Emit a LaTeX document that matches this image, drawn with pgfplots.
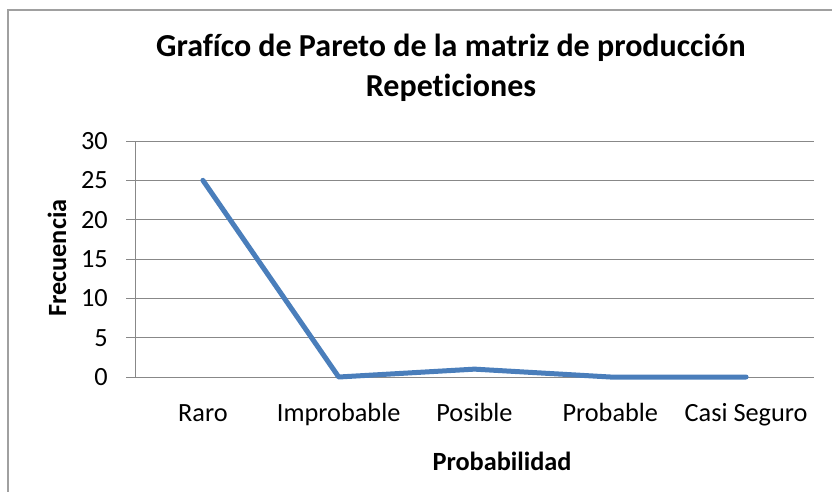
\documentclass[border=0pt]{standalone}
\usepackage{fontspec}
\setmainfont{Carlito}[Ligatures=NoCommon]
\usepackage{pgfplots}
\pgfplotsset{compat=1.18}
\definecolor{excelblue}{HTML}{4A7EBB}
\definecolor{gridgray}{HTML}{888888}
\definecolor{bordergray}{HTML}{A0A0A0}
\begin{document}
\begin{tikzpicture}[x=1pt,y=1pt]
\useasboundingbox (0,0) rectangle (832,-492);
\draw[color=bordergray, line width=1.5pt] (8,-492) -- (8,-10) -- (832,-10);
\begin{axis}[
  at={(135pt,-377pt)}, anchor=south west,
  scale only axis, width=679pt, height=236pt,
  xmin=-0.5, xmax=4.5, ymin=0, ymax=30,
  ytick={0,5,...,30},
  xtick={0,1,2,3,4},
  xticklabels={Raro,Improbable,Posible,Probable,Casi Seguro},
  axis x line=bottom, axis y line=left,
  axis line style={-, gridgray, line width=1pt},
  ymajorgrids, major grid style={gridgray, line width=1pt},
  tick align=outside, major tick length=9pt,
  ytick style={gridgray, line width=1pt},
  xtick style={draw=none},
  /pgf/number format/assume math mode=true,
  ticklabel style={font=\fontsize{26.3}{30}\selectfont},
  yticklabel style={anchor=east, inner sep=0pt, xshift=-18pt},
  xticklabel style={anchor=north, inner sep=0pt, text height=19pt, text depth=6pt, yshift=-16pt},
  xlabel={Probabilidad},
  ylabel={Frecuencia},
  label style={font=\fontsize{26.3}{30}\selectfont\bfseries},
  xlabel style={at={(axis description cs:0.5405,-0.398)}, anchor=base, inner sep=0pt},
  ylabel style={at={(axis description cs:-0.115,0.504)}, anchor=center, inner sep=0pt},
  title={Grafíco de Pareto de la matriz de producción\\Repeticiones},
  title style={at={(axis description cs:0.4654,1.165)}, anchor=base, inner sep=0pt, align=center, font=\fontsize{32}{40}\selectfont\bfseries},
  clip=false,
]
\addplot[excelblue, line width=5pt, line join=round, line cap=round] coordinates {(0,25) (1,0) (2,1) (3,0) (4,0)};
\end{axis}
\end{tikzpicture}
\end{document}
